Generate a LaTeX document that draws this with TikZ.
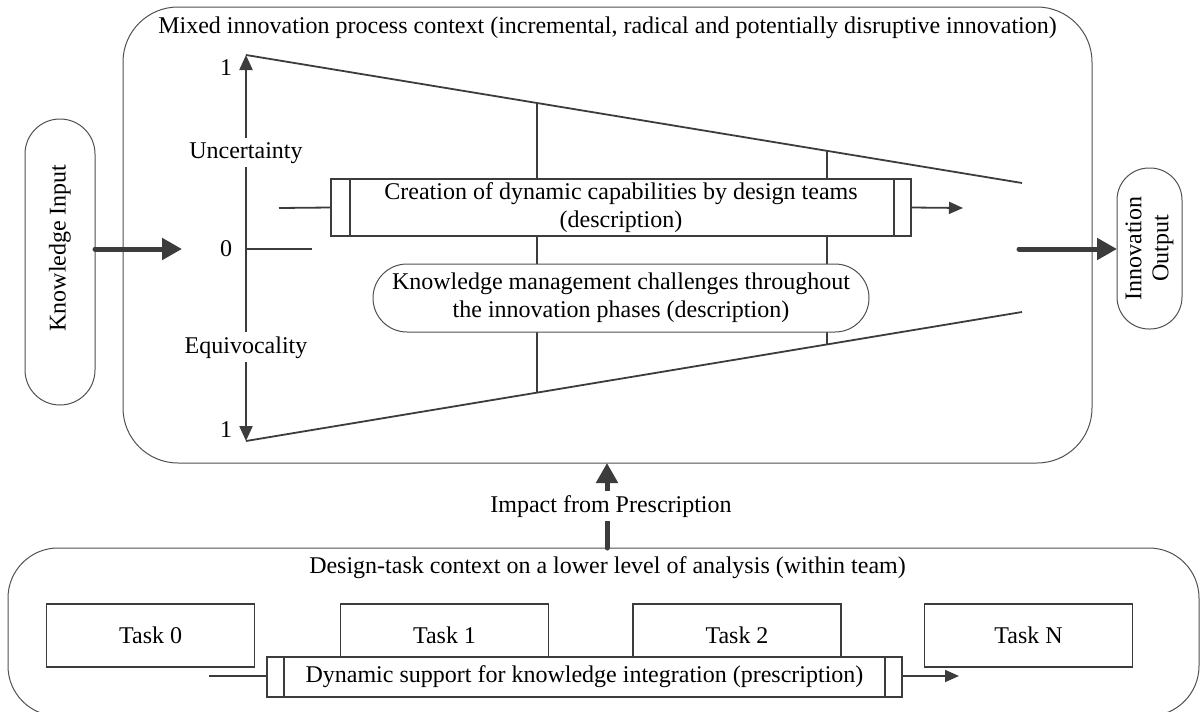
\documentclass[tikz,border=0pt]{standalone}
\usepackage{fontspec}
\usepackage{graphicx}
\setmainfont{Liberation Serif}
\usetikzlibrary{arrows.meta,calc}
\definecolor{ink}{HTML}{3C3C3C}
\definecolor{frame}{HTML}{505050}

\begin{document}
\begin{tikzpicture}[x=1pt,y=-1pt,
  every node/.style={font=\fontsize{24}{28}\selectfont, text=black, inner sep=0pt, outer sep=0pt},
  region/.style={draw=frame, line width=1pt, rounded corners=#1},
  pill/.style={draw=frame, line width=1pt, fill=white, rounded corners=#1},
  procbar/.style={draw=ink, line width=1.8pt, fill=white},
  taskbox/.style={draw=ink, line width=1.6pt, fill=white, minimum width=208pt, minimum height=63pt},
  edge/.style={draw=ink, line width=1.8pt},
  axis/.style={draw=ink, line width=2.2pt, -{Triangle[length=15pt,width=13pt]}},
  smallarrow/.style={draw=ink, line width=1.8pt, -{Triangle[length=14pt,width=12pt]}},
  bigarrow/.style={draw=ink, line width=5pt, line cap=round, -{Triangle[length=20pt,width=21pt]}},
  axlabel/.style={fill=white, inner xsep=1pt, inner ysep=4pt, anchor=base},
]
\useasboundingbox (0,0) rectangle (1203,712);

% outer process context
\node[region=55pt, minimum width=969pt, minimum height=456pt] (proc) at (607.5,235) {};
\node[anchor=base] (proctitle) at (607.5,33) {Mixed innovation process context (incremental, radical and potentially disruptive innovation)};

% lower-level task context (its bottom edge sits just below the page)
\begin{scope}
  \clip (0,0) rectangle (1203,712);
  \node[region=50pt, minimum width=1191pt, minimum height=168pt] (tasks) at (603.5,632) {};
\end{scope}
\node[anchor=base] (tasktitle) at (607.5,573) {Design-task context on a lower level of analysis (within team)};

% uncertainty / equivocality axis
\coordinate (ax0) at (246,249);
\coordinate (axt) at (246,55);
\coordinate (axb) at (246,441);
\coordinate (tr) at (1022,183);
\coordinate (br) at (1022,312);
\draw[edge] (axt) -- (tr);
\draw[edge] (axb) -- (br);
\draw[edge] ($(axt)!0.375!(tr)$) -- ($(axb)!0.375!(br)$);
\draw[edge] ($(axt)!0.7487!(tr)$) -- ($(axb)!0.7487!(br)$);
\draw[axis] (ax0) -- (axt);
\draw[axis] (ax0) -- (axb);
\coordinate (zeroend) at (312,249);
\draw[edge] (ax0) -- (zeroend);
\node[axlabel] (unc) at (246,158) {Uncertainty};
\node[axlabel] (equ) at (246,353) {Equivocality};
\node[anchor=base] (one1) at (226,75) {1};
\node[anchor=base] (zero) at (226,256) {0};
\node[anchor=base] (one2) at (226,437) {1};

% description processes
\node[procbar, minimum width=580pt, minimum height=57pt, align=center] (cap) at (621,207.5)
  {Creation of dynamic capabilities by design teams\\(description)};
\draw[edge] ($(cap.north west)+(19,0)$) -- ($(cap.south west)+(19,0)$);
\draw[edge] ($(cap.north east)+(-17,0)$) -- ($(cap.south east)+(-17,0)$);
\coordinate (capin) at (279,208);
\coordinate (capout) at (963,208);
\draw[edge] (capin) -- (cap.west);
\draw[smallarrow] (cap.east) -- (capout);

\node[pill=34pt, minimum width=496pt, minimum height=68pt, align=center] (km) at (621,298)
  {Knowledge management challenges throughout\\the innovation phases (description)};

% input and output
\node[pill=35pt, minimum width=70pt, minimum height=286pt] (kin) at (60,262)
  {\rotatebox{90}{\hspace*{28pt}Knowledge Input}};
\coordinate (kinarrow) at (182,249);
\draw[bigarrow] (kin.east |- kinarrow) -- (kinarrow);

\node[pill=32pt, minimum width=65pt, minimum height=161pt] (iout) at (1149.5,248.5)
  {\rotatebox{90}{\fontsize{24}{27}\selectfont\begin{tabular}{@{}c@{}}Innovation\\Output\end{tabular}}};
\coordinate (ioutstart) at (1019,249);
\draw[bigarrow] (ioutstart) -- (ioutstart -| iout.west);

% impact arrow
\coordinate (impbase) at (607,548);
\draw[bigarrow] (impbase) -- (impbase |- proc.south);
\node[fill=white, inner ysep=4pt, inner xsep=2pt, anchor=base] (impact) at (611,512) {Impact from Prescription};

% tasks
\node[taskbox] (t0) at (150.6,635.5) {Task 0};
\node[taskbox] (t1) at (444.5,635.5) {Task 1};
\node[taskbox] (t2) at (737,635.5) {Task 2};
\node[taskbox] (tN) at (1028.5,635.5) {Task N};

\node[procbar, minimum width=635pt, minimum height=40pt] (bar) at (584.5,677)
  {Dynamic support for knowledge integration (prescription)};
\draw[edge] ($(bar.north west)+(17,0)$) -- ($(bar.south west)+(17,0)$);
\draw[edge] ($(bar.north east)+(-17,0)$) -- ($(bar.south east)+(-17,0)$);
\coordinate (barin) at (209,676);
\coordinate (barout) at (959,676);
\draw[edge] (barin) -- (barin -| bar.west);
\draw[smallarrow] (barout -| bar.east) -- (barout);
\end{tikzpicture}
\end{document}
